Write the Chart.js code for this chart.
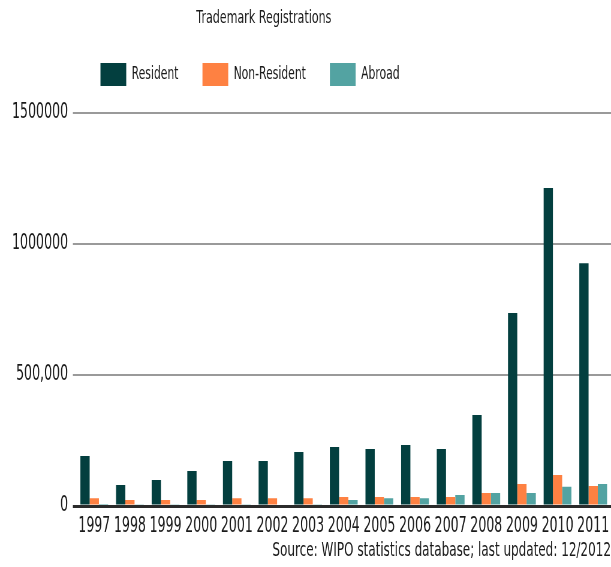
<!DOCTYPE html>
<html>
<head>
<meta charset="utf-8">
<script src="https://cdn.jsdelivr.net/npm/chart.js@4.4.1/dist/chart.umd.min.js"></script>
<style>
  html, body { margin: 0; padding: 0; background: #ffffff; overflow: hidden; }
  /* the chart is laid out wide, then squeezed horizontally into 611px */
  #wrap { width: 1019px; height: 567px; transform: scaleX(0.5996); transform-origin: 0 0; }
</style>
</head>
<body>
<div id="wrap"><canvas id="tmChart" width="1019" height="567"></canvas></div>
<script>
// Trademark registrations per year, split by filer origin.
const years = ['1997', '1998', '1999', '2000', '2001', '2002', '2003', '2004',
  '2005', '2006', '2007', '2008', '2009', '2010', '2011'];
const resident = [191000, 80000, 99000, 134000, 172000, 172000, 206000, 225000,
  218000, 233000, 218000, 347000, 737000, 1214000, 927000];
const nonResident = [30000, 23000, 23000, 23000, 30000, 30000, 30000, 34000,
  34000, 34000, 34000, 50000, 84000, 118000, 76000];
const abroad = [8000, 7000, 7000, 7000, 7000, 6000, 5000, 23000,
  30000, 30000, 42000, 50000, 50000, 73000, 84000];
const yTickValues = [0, 500000, 1000000, 1500000];
const yTickLabels = ['0', '500,000', '1000000', '1500000'];
const chartTitle = 'Trademark Registrations';
const sourceNote = 'Source: WIPO statistics database; last updated: 12/2012';

const FONT = '"DejaVu Sans", Verdana, sans-serif';
const INK = '#1a1a1a';

// title sits a bit left of centre, so it is drawn by hand
const headerTitle = {
  id: 'headerTitle',
  afterDraw(chart) {
    const c = chart.ctx;
    c.save();
    c.font = '18.5px ' + FONT;
    c.fillStyle = INK;
    c.textAlign = 'center';
    c.textBaseline = 'middle';
    c.fillText(chartTitle, 440, 18);
    c.restore();
  },
};

// extra room between the legend row and the plot
const legendGap = {
  id: 'legendGap',
  beforeInit(chart) {
    const origFit = chart.legend.fit;
    chart.legend.fit = function fit() {
      origFit.call(this);
      this.height += 17;
    };
  },
};

const ctx = document.getElementById('tmChart').getContext('2d');
new Chart(ctx, {
  type: 'bar',
  data: {
    labels: years,
    datasets: [
      { label: 'Resident', data: resident, backgroundColor: '#033f3f' },
      { label: 'Non-Resident', data: nonResident, backgroundColor: '#fe8142' },
      { label: 'Abroad', data: abroad, backgroundColor: '#53a3a2' },
    ],
  },
  plugins: [headerTitle, legendGap],
  options: {
    responsive: false,
    animation: false,
    devicePixelRatio: 1,
    categoryPercentage: 0.78,
    barPercentage: 1.0,
    layout: { padding: { left: 12, right: 0, top: 23, bottom: 2 } },
    plugins: {
      title: { display: false },
      legend: {
        position: 'top',
        align: 'start',
        fullSize: false,
        labels: {
          color: INK,
          font: { family: FONT, size: 18 },
          boxWidth: 43,
          boxHeight: 23,
          padding: 40,
        },
      },
      subtitle: {
        display: true,
        position: 'bottom',
        align: 'end',
        text: sourceNote,
        color: INK,
        font: { family: FONT, size: 20 },
        padding: { top: 0, bottom: 2 },
      },
      tooltip: { enabled: false },
    },
    scales: {
      x: {
        grid: { display: false },
        border: { display: true, color: '#2b2b2b', width: 3 },
        ticks: {
          color: INK,
          font: { family: FONT, size: 21, lineHeight: 1 },
          maxRotation: 0,
          autoSkip: false,
          padding: 2,
        },
      },
      y: {
        min: 0,
        max: 1500000,
        border: { display: false },
        grid: {
          color: (c) => (c.tick && c.tick.value === 0 ? '#2b2b2b' : '#9a9a9a'),
          lineWidth: (c) => (c.tick && c.tick.value === 0 ? 3 : 2),
          drawTicks: true,
          tickLength: 6,
        },
        afterBuildTicks: (scale) => {
          scale.ticks = yTickValues.map((v) => ({ value: v }));
        },
        ticks: {
          color: INK,
          font: { family: FONT, size: 21 },
          padding: 8,
          callback: (value) => yTickLabels[yTickValues.indexOf(value)],
        },
      },
    },
  },
});
</script>
</body>
</html>
